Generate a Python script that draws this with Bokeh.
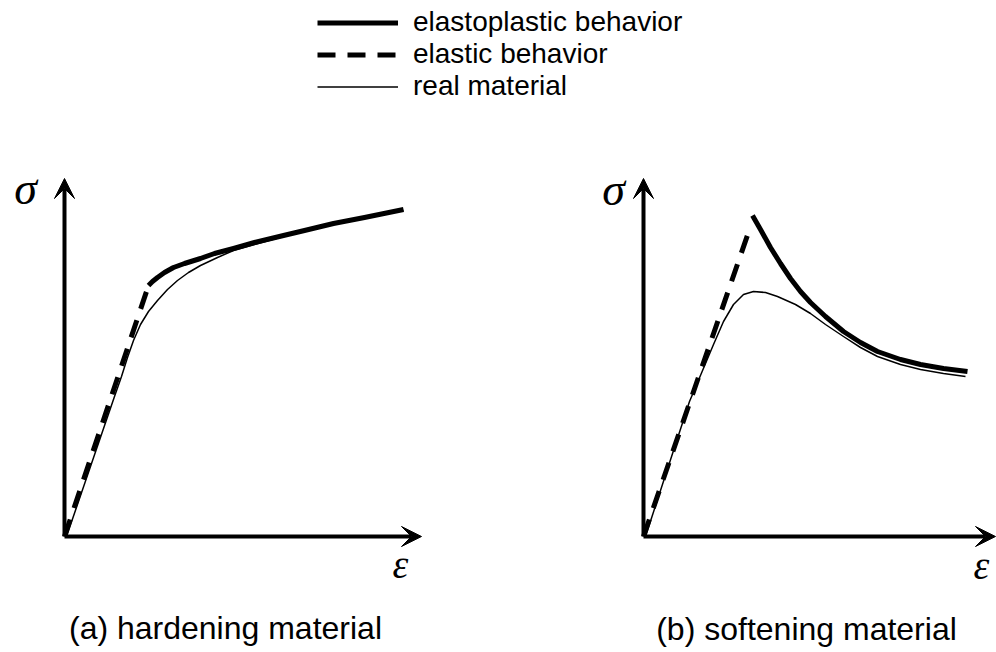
from bokeh.plotting import figure
from bokeh.models import Arrow, VeeHead, Label, Legend, LegendItem, Range1d
from bokeh.layouts import column, row
from bokeh.embed import file_html
from bokeh.resources import INLINE

# ---------------- data (strain, stress) ----------------
# panel (a) hardening material
a_elastic_x = [0, 84]
a_elastic_y = [0, 251]
a_plastic_x = [84, 88, 93, 100, 109, 120, 136, 150, 169, 190, 219, 240, 269, 300, 339]
a_plastic_y = [251, 255, 259, 264, 269, 273, 278, 283, 288, 294, 301, 306, 313, 319, 327]
a_real_x = [2, 50, 57, 63, 69, 76, 84, 93, 103, 113, 124, 136, 153, 169, 190, 219, 240, 269, 300, 339]
a_real_y = [0, 140, 160, 179, 196, 212, 225, 236, 247, 256, 264, 271, 279, 286, 292, 300, 305, 312, 318, 326]

# panel (b) softening material
b_elastic_x = [0, 107]
b_elastic_y = [0, 310]
b_plastic_x = [109, 117, 127, 137, 147, 157, 167, 182, 200, 217, 234, 257, 277, 300, 324]
b_plastic_y = [321, 307, 289, 273, 258, 245, 234, 220, 205, 194, 185, 177, 172, 168, 165]
b_real_x = [2, 46, 70, 80, 90, 100, 110, 122, 134, 152, 167, 182, 200, 217, 234, 257, 277, 300, 322]
b_real_y = [0, 135, 192, 215, 232, 242, 245, 244, 240, 232, 223, 212, 200, 189, 180, 172, 167, 163, 160]

axis_len_a = (357, 358)
axis_len_b = (352, 358)

legend_labels = ["elastoplastic behavior", "elastic behavior", "real material"]
captions = ["(a) hardening material", "(b) softening material"]
stress_symbol = "\u03c3"
strain_symbol = "\u03b5"

SANS = "Liberation Sans"
SERIF = "Liberation Serif"
THICK = 5
THIN = 1.5
DASH = "18 12"


def panel(width, x_start, ex, ey, px, py, rx, ry, axis_len, caption, sym_pos):
    p = figure(width=width, height=502, output_backend="svg", toolbar_location=None,
               x_axis_location=None, y_axis_location=None, min_border=0,
               outline_line_color=None, background_fill_color="white",
               border_fill_color="white")
    p.x_range = Range1d(x_start, x_start + width)
    p.y_range = Range1d(-116, 386)
    p.grid.visible = False
    # axes as arrows
    p.add_layout(Arrow(end=VeeHead(size=20, fill_color="black", line_color="black", line_width=1),
                       x_start=0, y_start=0, x_end=axis_len[0], y_end=0,
                       line_width=4, line_color="black"))
    p.add_layout(Arrow(end=VeeHead(size=20, fill_color="black", line_color="black", line_width=1),
                       x_start=0, y_start=0, x_end=0, y_end=axis_len[1],
                       line_width=4, line_color="black"))
    p.line(rx, ry, line_width=THIN, line_color="black", line_join="round")
    p.line(ex, ey, line_width=THICK, line_color="black", line_dash=DASH)
    p.line(px, py, line_width=THICK, line_color="black", line_join="round")
    (sx, sy), (tx, ty), (cx, cy) = sym_pos
    p.add_layout(Label(x=sx, y=sy, text=stress_symbol, text_font=SERIF, text_font_style="italic",
                       text_font_size="46px", text_align="center", text_baseline="middle",
                       text_color="black"))
    p.add_layout(Label(x=tx, y=ty, text=strain_symbol, text_font=SERIF, text_font_style="italic",
                       text_font_size="40px", text_align="center", text_baseline="middle",
                       text_color="black"))
    p.add_layout(Label(x=cx, y=cy, text=caption, text_font=SANS, text_color="black",
                       text_font_size="32px", text_align="center", text_baseline="middle"))
    return p


fig_a = panel(579, -64, a_elastic_x, a_elastic_y, a_plastic_x, a_plastic_y,
              a_real_x, a_real_y, axis_len_a, captions[0],
              ((-39, 348), (336, -28), (161, -91)))
fig_b = panel(417, -64, b_elastic_x, b_elastic_y, b_plastic_x, b_plastic_y,
              b_real_x, b_real_y, axis_len_b, captions[1],
              ((-30, 347), (338, -29), (163, -92)))

# header with the legend
head = figure(width=996, height=150, output_backend="svg", toolbar_location=None,
              x_axis_location=None, y_axis_location=None, min_border=0,
              outline_line_color=None, x_range=Range1d(0, 1), y_range=Range1d(0, 1))
head.grid.visible = False
off = [-5, -4]  # hidden samples, only the legend swatches are shown
r1 = head.line(off, off, line_width=THICK, line_color="black")
r2 = head.line(off, off, line_width=THICK, line_color="black", line_dash=DASH)
r3 = head.line(off, off, line_width=THIN, line_color="black")
leg = Legend(items=[LegendItem(label=legend_labels[0], renderers=[r1]),
                    LegendItem(label=legend_labels[1], renderers=[r2]),
                    LegendItem(label=legend_labels[2], renderers=[r3])],
             location=(317, 48), glyph_width=81, glyph_height=27, label_height=27,
             label_standoff=15, spacing=0, padding=0, margin=0,
             border_line_color=None, background_fill_alpha=0,
             label_text_font=SANS, label_text_font_size="28px",
             label_text_color="black")
head.add_layout(leg, "center")

layout = column(head, row(fig_a, fig_b, spacing=0), spacing=0)

with open("out.html", "w") as f:
    f.write(file_html(layout, INLINE))
